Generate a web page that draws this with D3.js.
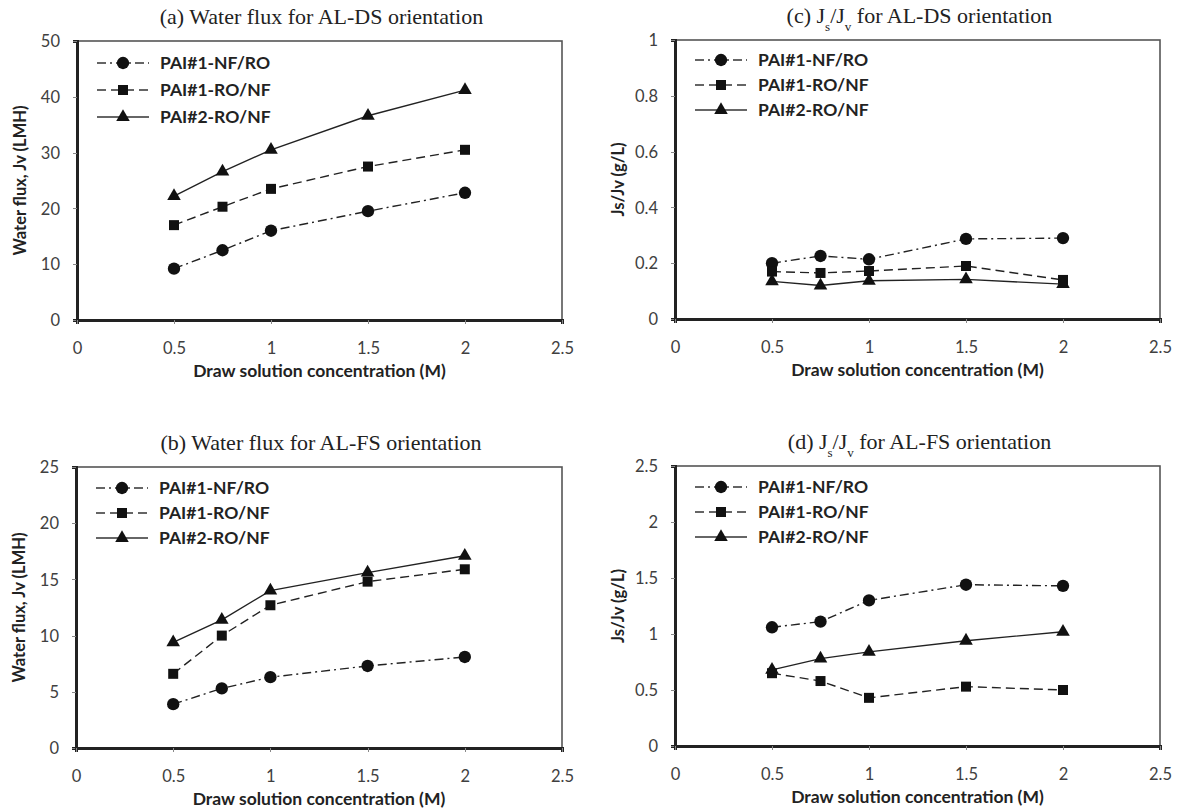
<!DOCTYPE html>
<html>
<head>
<meta charset="utf-8">
<script src="https://cdn.jsdelivr.net/npm/d3@7"></script>
<style>
  html, body { margin: 0; padding: 0; background: #fff; }
  svg { display: block; }
  .tick-label { font-family: "Lato", "Open Sans", sans-serif; font-size: 16.5px; fill: #404040; }
  .axis-title { font-family: "Lato", "Open Sans", sans-serif; font-weight: bold; fill: #222; }
  .x-title { font-size: 17.5px; }
  .y-title { font-size: 16.5px; }
  .legend-text { font-family: "Lato", "Open Sans", sans-serif; font-size: 17.5px; font-weight: bold; fill: #222; }
  .panel-title { font-family: "Liberation Serif", "Times New Roman", serif; font-size: 22px; fill: #222; }
</style>
</head>
<body>
<svg id="chart" width="1177" height="808"></svg>
<script>
// Draw solution concentrations (M)
const concentrations = [0.5, 0.75, 1, 1.5, 2];
const seriesNames = ["PAI#1-NF/RO", "PAI#1-RO/NF", "PAI#2-RO/NF"];

// (a) water flux, AL-DS (LMH)
const fluxDS_NFRO = [9.2, 12.5, 16.0, 19.5, 22.8];
const fluxDS_RONF = [17.0, 20.3, 23.5, 27.5, 30.5];
const fluxDS_PAI2 = [22.2, 26.6, 30.5, 36.6, 41.2];
// (b) water flux, AL-FS (LMH)
const fluxFS_NFRO = [3.9, 5.3, 6.3, 7.3, 8.1];
const fluxFS_RONF = [6.6, 10.0, 12.7, 14.8, 15.9];
const fluxFS_PAI2 = [9.4, 11.4, 14.0, 15.6, 17.1];
// (c) Js/Jv, AL-DS (g/L)
const ratioDS_NFRO = [0.200, 0.226, 0.214, 0.287, 0.290];
const ratioDS_RONF = [0.170, 0.165, 0.172, 0.190, 0.140];
const ratioDS_PAI2 = [0.135, 0.120, 0.137, 0.142, 0.125];
// (d) Js/Jv, AL-FS (g/L)
const ratioFS_NFRO = [1.06, 1.11, 1.30, 1.44, 1.43];
const ratioFS_RONF = [0.65, 0.58, 0.43, 0.53, 0.50];
const ratioFS_PAI2 = [0.68, 0.78, 0.84, 0.94, 1.02];

// Tick labels
const xTicks = [0, 0.5, 1, 1.5, 2, 2.5];
const fluxDSTicks = [0, 10, 20, 30, 40, 50];
const fluxFSTicks = [0, 5, 10, 15, 20, 25];
const ratioDSTicks = [0, 0.2, 0.4, 0.6, 0.8, 1];
const ratioFSTicks = [0, 0.5, 1, 1.5, 2, 2.5];

const xTitle = "Draw solution concentration (M)";

const svg = d3.select("#chart");

const seriesStyle = [
  { dash: "9,4,2,4", symbol: d3.symbolCircle, size: 120 },
  { dash: "9,5", symbol: d3.symbolSquare, size: 100 },
  { dash: null, symbol: d3.symbolTriangle, size: 80 }
];

function drawPanel(cfg) {
  const g = svg.append("g");
  const x = d3.scaleLinear().domain([0, 2.5]).range([cfg.left, cfg.right]);
  const y = d3.scaleLinear().domain([0, d3.max(cfg.yTicks)]).range([cfg.bottom, cfg.top]);

  // frame
  g.append("rect")
    .attr("x", cfg.left).attr("y", cfg.top)
    .attr("width", cfg.right - cfg.left).attr("height", cfg.bottom - cfg.top)
    .attr("fill", "none").attr("stroke", "#555").attr("stroke-width", 1.6);

  // axes
  const yAxis = d3.axisLeft(y).tickValues(cfg.yTicks).tickSize(4).tickFormat(d3.format("~g"));
  const xAxis = d3.axisBottom(x).tickValues(xTicks).tickSize(4).tickFormat(d3.format("~g"));

  const ya = g.append("g").attr("transform", `translate(${cfg.left},0)`).call(yAxis);
  ya.select(".domain").attr("stroke", "#222").attr("stroke-width", 2.6);
  ya.selectAll(".tick line").attr("stroke", "#888").attr("stroke-width", 1);
  ya.selectAll(".tick text").attr("class", "tick-label").attr("x", -17).attr("dy", "0.35em");

  const xa = g.append("g").attr("transform", `translate(0,${cfg.bottom})`).call(xAxis);
  xa.select(".domain").attr("stroke", "#222").attr("stroke-width", 2.6);
  xa.selectAll(".tick line").attr("stroke", "#888").attr("stroke-width", 1);
  xa.selectAll(".tick text").attr("class", "tick-label").attr("y", 28).attr("dy", "0.35em");
  svg.selectAll(".tick text").attr("font-family", null).attr("font-size", null).attr("fill", null);
  svg.selectAll(".domain, .tick line").attr("shape-rendering", "crispEdges");

  // series
  cfg.series.forEach((vals, i) => {
    const st = seriesStyle[i];
    const pts = concentrations.map((c, j) => [c, vals[j]]);
    const line = d3.line().x(d => x(d[0])).y(d => y(d[1]));
    g.append("path")
      .attr("d", line(pts))
      .attr("fill", "none").attr("stroke", "#222").attr("stroke-width", 1.4)
      .attr("stroke-dasharray", st.dash);
    g.selectAll(null).data(pts).enter().append("path")
      .attr("d", d3.symbol().type(st.symbol).size(st.size))
      .attr("transform", d => `translate(${x(d[0])},${y(d[1])})`)
      .attr("fill", "#111");
  });

  // legend
  seriesNames.forEach((name, i) => {
    const st = seriesStyle[i];
    const ly = cfg.legendTop + i * cfg.legendGap;
    const lx = cfg.left + 20;
    g.append("line")
      .attr("x1", lx).attr("x2", lx + 52).attr("y1", ly).attr("y2", ly)
      .attr("stroke", "#333").attr("stroke-width", 1.4)
      .attr("stroke-dasharray", st.dash);
    g.append("path")
      .attr("d", d3.symbol().type(st.symbol).size(st.size))
      .attr("transform", `translate(${lx + 26},${ly})`)
      .attr("fill", "#111");
    g.append("text").attr("class", "legend-text")
      .attr("x", lx + 63).attr("y", ly).attr("dy", "0.36em").text(name);
  });

  // axis titles
  g.append("text").attr("class", "axis-title x-title")
    .attr("text-anchor", "middle")
    .attr("x", (cfg.left + cfg.right) / 2).attr("y", cfg.bottom + 57)
    .text(xTitle);
  g.append("text").attr("class", "axis-title y-title")
    .attr("text-anchor", "middle")
    .attr("transform", `translate(${cfg.left - 51},${(cfg.top + cfg.bottom) / 2}) rotate(-90)`)
    .text(cfg.yTitle);

  // panel title
  const t = g.append("text").attr("class", "panel-title")
    .attr("text-anchor", "middle")
    .attr("x", (cfg.left + cfg.right) / 2 + 2).attr("y", cfg.top - 17);
  cfg.title.forEach(part => {
    const ts = t.append("tspan").text(part.t);
    if (part.sub) ts.attr("baseline-shift", "sub").attr("font-size", "13px");
  });
}

drawPanel({
  left: 77, right: 562, top: 41, bottom: 320,
  yTicks: fluxDSTicks, yTitle: "Water flux, Jv (LMH)",
  series: [fluxDS_NFRO, fluxDS_RONF, fluxDS_PAI2],
  legendTop: 63, legendGap: 27,
  title: [{ t: "(a) Water flux for AL-DS orientation" }]
});
drawPanel({
  left: 675, right: 1160, top: 40, bottom: 319,
  yTicks: ratioDSTicks, yTitle: "Js/Jv (g/L)",
  series: [ratioDS_NFRO, ratioDS_RONF, ratioDS_PAI2],
  legendTop: 60, legendGap: 25,
  title: [{ t: "(c) J" }, { t: "s", sub: true }, { t: "/J" }, { t: "v", sub: true }, { t: " for AL-DS orientation" }]
});
drawPanel({
  left: 76, right: 562, top: 467, bottom: 748,
  yTicks: fluxFSTicks, yTitle: "Water flux, Jv (LMH)",
  series: [fluxFS_NFRO, fluxFS_RONF, fluxFS_PAI2],
  legendTop: 488, legendGap: 25,
  title: [{ t: "(b) Water flux for AL-FS orientation" }]
});
drawPanel({
  left: 675, right: 1160, top: 466, bottom: 746,
  yTicks: ratioFSTicks, yTitle: "Js/Jv (g/L)",
  series: [ratioFS_NFRO, ratioFS_RONF, ratioFS_PAI2],
  legendTop: 487, legendGap: 25,
  title: [{ t: "(d) J" }, { t: "s", sub: true }, { t: "/J" }, { t: "v", sub: true }, { t: " for AL-FS orientation" }]
});
</script>
</body>
</html>
